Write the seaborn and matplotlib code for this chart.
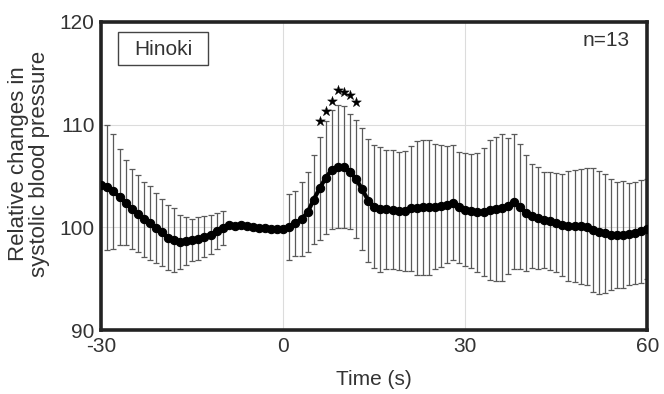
import numpy as np
import pandas as pd
import matplotlib
matplotlib.use("Agg")
import matplotlib.pyplot as plt
from matplotlib.patches import Rectangle
import seaborn as sns

# Time axis (s) and mean relative systolic blood pressure (%)
time_s = list(range(-30, 61))
mean_sbp = [
    104.1, 103.9, 103.5, 102.95, 102.4, 101.8, 101.3, 100.8, 100.4, 99.9,
    99.5, 99.0, 98.77, 98.6, 98.65, 98.75, 98.9, 99.1, 99.3, 99.6,
    99.9, 100.2, 100.15, 100.2, 100.15, 100.07, 99.95, 99.9, 99.82, 99.8,
    99.8, 100.05, 100.4, 100.8, 101.45, 102.7, 103.8, 104.85, 105.6, 105.9,
    105.85, 105.4, 104.7, 103.7, 102.6, 102.0, 101.76, 101.75, 101.7, 101.6,
    101.6, 101.85, 101.9, 101.95, 101.95, 102.0, 102.1, 102.2, 102.4, 101.95,
    101.7, 101.55, 101.45, 101.5, 101.7, 101.8, 101.9, 102.1, 102.5, 102.0,
    101.4, 101.1, 100.9, 100.7, 100.6, 100.45, 100.2, 100.1, 100.1, 100.1,
    100.05, 99.75, 99.5, 99.4, 99.3, 99.25, 99.3, 99.35, 99.45, 99.6,
    99.85,
]

# Standard deviations, reported for -29..-10 s and 1..60 s
sd_time_pre = list(range(-29, -9))
sd_pre = [6.1, 5.6, 4.7, 4.15, 3.9, 3.75, 3.65, 3.6, 3.4, 3.25,
          3.2, 3.1, 2.65, 2.35, 2.05, 2.1, 2.0, 1.9, 1.75, 1.65]
sd_time_post = list(range(1, 61))
sd_post = [3.2, 3.15, 3.6, 3.9, 4.35, 5.0, 5.5, 5.8, 6.0, 5.95,
           5.6, 5.75, 5.95, 6.0, 6.0, 6.1, 5.8, 5.8, 5.75, 5.85,
           6.1, 6.5, 6.6, 6.6, 6.1, 5.95, 5.7, 5.6, 5.4, 5.5,
           5.55, 5.8, 6.2, 6.8, 7.0, 7.15, 6.6, 6.6, 6.1, 5.65,
           5.1, 4.95, 4.7, 4.8, 4.8, 4.95, 5.35, 5.45, 5.6, 5.7,
           6.0, 6.0, 5.8, 5.4, 5.2, 5.2, 5.0, 5.0, 5.0, 4.9]

# Significance markers
star_time = [6, 7, 8, 9, 10, 11, 12]
star_y = [110.4, 111.3, 112.3, 113.4, 113.2, 112.9, 112.25]

x_ticks = [-30, 0, 30, 60]
y_ticks = [90, 100, 110, 120]

df = pd.DataFrame({"time": time_s, "sbp": mean_sbp})
mean_lookup = dict(zip(time_s, mean_sbp))
sd_df = pd.DataFrame({
    "time": sd_time_pre + sd_time_post,
    "sd": sd_pre + sd_post,
})
sd_df["mean"] = sd_df["time"].map(mean_lookup)

sns.set_style("white")
plt.rcParams["font.family"] = ["Liberation Sans", "DejaVu Sans"]
plt.rcParams["axes.unicode_minus"] = False

text_color = "#333333"

fig = plt.figure(figsize=(6.64, 3.94), dpi=100)
ax = fig.add_axes([0.1526, 0.1624, 0.8223, 0.7818])

ax.grid(True, color="#dcdcdc", linewidth=0.8)
ax.set_axisbelow(True)

ax.errorbar(sd_df["time"], sd_df["mean"], yerr=sd_df["sd"], fmt="none",
            ecolor="#5a5a5a", elinewidth=0.9, capsize=2.2, capthick=0.9,
            zorder=2)

sns.lineplot(data=df, x="time", y="sbp", ax=ax, color="black",
             linewidth=3.0, marker="o", markersize=6.0,
             markeredgecolor="black", markerfacecolor="black", zorder=3)

sns.scatterplot(x=star_time, y=star_y, ax=ax, marker="*", s=55,
                color="black", edgecolor="black", linewidth=0.3, zorder=4)

ax.set_xlim(-30, 60)
ax.set_ylim(90, 120)
ax.set_xticks(x_ticks)
ax.set_yticks(y_ticks)
ax.tick_params(axis="both", labelsize=15, colors=text_color, length=0, pad=5)
ax.set_xlabel("Time (s)", fontsize=15, color=text_color, labelpad=10)
ax.set_ylabel("Relative changes in\nsystolic blood pressure", fontsize=16,
              color=text_color, linespacing=1.0)
ax.yaxis.set_label_coords(-0.094, 0.54)

for side in ax.spines.values():
    side.set_linewidth(2.6)
    side.set_color("#222222")

# Group label box in the upper-left corner
ax.add_patch(Rectangle((0.031, 0.860), 0.164, 0.107, transform=ax.transAxes,
                       facecolor="white", edgecolor="#444444", linewidth=1.0,
                       zorder=5))
ax.text(0.113, 0.912, "Hinoki", transform=ax.transAxes, fontsize=15,
        color=text_color, va="center", ha="center", zorder=6)
ax.text(0.968, 0.94, "n=13", transform=ax.transAxes, fontsize=15,
        color=text_color, va="center", ha="right")

fig.savefig("out.png", dpi=100, facecolor="white")
